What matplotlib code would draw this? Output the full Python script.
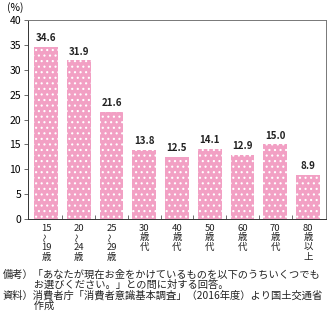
import matplotlib.pyplot as plt
import matplotlib as mpl

plt.rcParams['font.family'] = ['Noto Sans CJK JP', 'DejaVu Sans']
mpl.rcParams['hatch.color'] = 'white'
mpl.rcParams['hatch.linewidth'] = 0.8

# vertical labels, one entry per stacked line ("〜" is drawn rotated)
labels = [["15", "〜", "19", "歳"], ["20", "〜", "24", "歳"], ["25", "〜", "29", "歳"],
          ["30", "歳", "代"], ["40", "歳", "代"], ["50", "歳", "代"], ["60", "歳", "代"],
          ["70", "歳", "代"], ["80", "歳", "以", "上"]]
values = [34.6, 31.9, 21.6, 13.8, 12.5, 14.1, 12.9, 15.0, 8.9]

fig = plt.figure(figsize=(3.33, 3.26), dpi=100)
ax = fig.add_axes([0.084, 0.328, 0.895, 0.61])

x = range(len(values))
bars = ax.bar(x, values, width=0.72, color="#F2A0C4", hatch="...", linewidth=0)

for i, v in enumerate(values):
    ax.text(i, v + 0.8, f"{v:.1f}", ha="center", va="bottom",
            fontsize=7, fontweight="bold", color="#222222")

ax.set_xlim(-0.55, len(values) - 0.45)
ax.set_ylim(0, 40)
ax.set_yticks(range(0, 41, 5))
ax.tick_params(axis="y", labelsize=7.5, length=3, width=0.6, color="#555555", pad=2)
ax.set_xticks(list(x))
ax.set_xticklabels([])
ax.tick_params(axis="x", length=0)
ax.set_xticks([i + 0.5 for i in range(len(values) - 1)], minor=True)
ax.tick_params(axis="x", which="minor", direction="in", length=3, width=0.6, color="#555555")

for i, parts in enumerate(labels):
    for j, p in enumerate(parts):
        tilde = p == "〜"
        ax.annotate(p, xy=(i, 0), xycoords=("data", "axes fraction"),
                    xytext=(0, -6.5 - 7.0 * j), textcoords="offset points",
                    ha="center", va="center", fontsize=6.5 if tilde else 6.8,
                    rotation=90 if tilde else 0, color="#222222")

for s in ax.spines.values():
    s.set_linewidth(0.7)
    s.set_color("#777777")
ax.spines["left"].set_color("#333333")
ax.spines["bottom"].set_color("#333333")

fig.text(0.022, 0.995, "(%)", fontsize=7.5, va="top", ha="left")

notes = ("備考）「あなたが現在お金をかけているものを以下のうちいくつでも\n"
         "　　　お選びください。」との問に対する回答。\n"
         "資料）消費者庁「消費者意識基本調査」（2016年度）より国土交通省\n"
         "　　　作成")
fig.text(0.008, 0.172, notes, fontsize=7.4, va="top", ha="left", linespacing=1.0, color="#222222")

fig.savefig("out.png", dpi=100)
